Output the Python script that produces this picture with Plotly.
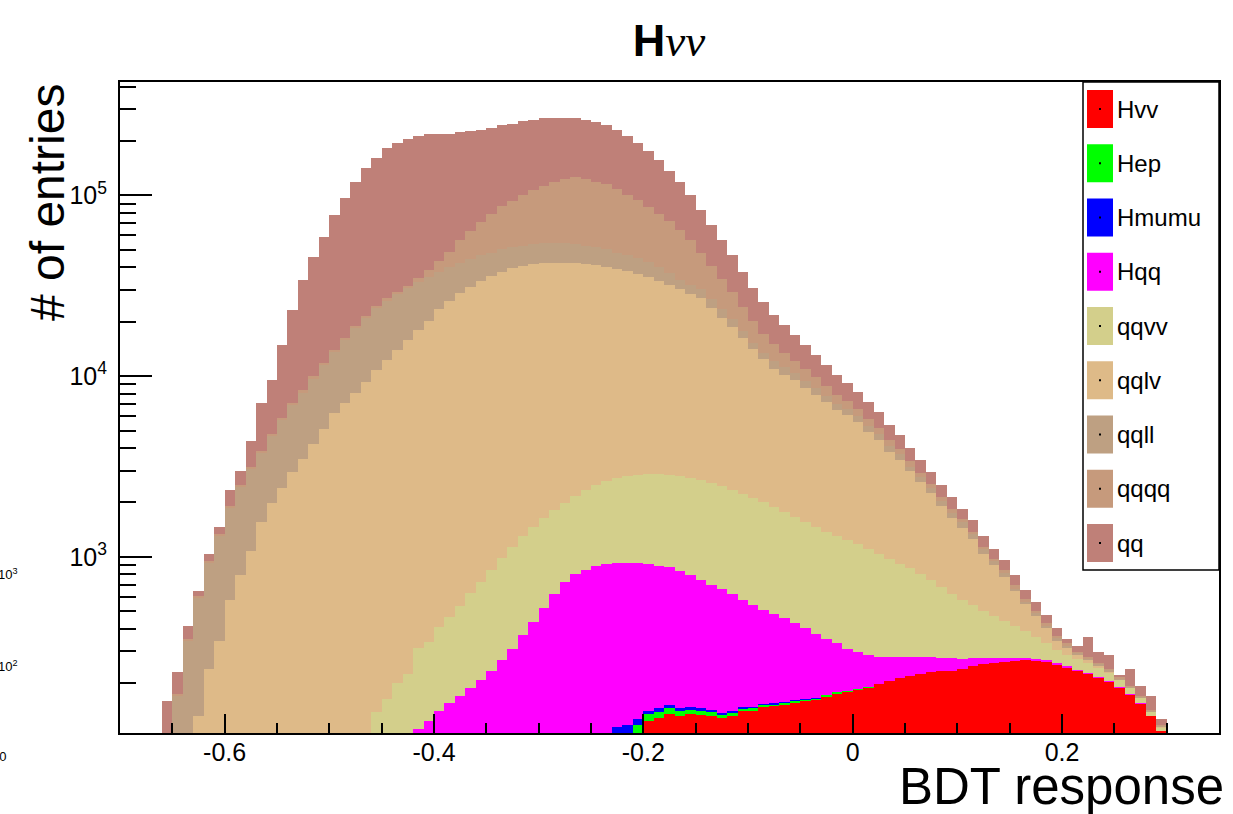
import numpy as np
import plotly.graph_objects as go

# ---------------- data (BDT response histogram, bin width 0.01) ----------------
bin_width = 0.01
first_edge = -0.66
n_bins = 96

# series values; each list starts at the given lower bin edge
qq_start = -0.66
qq = [57, 55, 63, 46, 95, 125, 425, 515, 1240, 3225, 4735, 9050, 16020, 25550, 35410, 46800, 63430, 80050,
      99050, 119430, 135500, 155000, 164900, 172500, 177000, 181500, 176800, 171200, 166600, 162200, 158000,
      156500, 157100, 153700, 157000, 153000, 155000, 149000, 144000, 141000, 136000, 135000, 129000, 120000,
      111000, 102200, 91200, 77500, 65200, 54000, 43600, 34800, 27700, 22100, 17600, 13500, 10500, 8400, 6700,
      5600, 4600, 3900, 3200, 2700, 2300, 1880, 1590, 1390, 1160, 920, 770, 610, 510, 410, 350, 300, 240, 210,
      170, 131, 114, 94, 71, 61, 46, 39, 21, 24, 84, 36, 44, 6, 48, 24, 27, 8]
qqqq_start = -0.66
qqqq = [3, 4, 8, 12, 18, 25, 35, 45, 60, 75, 95, 120, 150, 190, 240, 300, 370, 450, 550, 670, 800, 800, 800, 900,
        2000, 3300, 5700, 8800, 14300, 19500, 24500, 30200, 36700, 41800, 47200, 53500, 57800, 63800, 68800,
        72500, 71200, 67500, 64800, 60700, 54500, 49000, 43200, 38500, 34800, 30100, 24600, 17600, 13900, 10900,
        8400, 6300, 4800, 3700, 2900, 2300, 1850, 1550, 1280, 1050, 850, 700, 560, 490, 380, 330, 240, 210, 150,
        130, 100, 90, 60, 50, 40, 35, 31, 27, 15, 13, 11, 9, 9, 3, 4, 3, 3, 2, 2, 2, 2, 2]
qqll_start = -0.66
qqll = [100, 171, 344, 460, 686, 976, 1296, 1651, 2020, 2240, 2680, 3340, 4000, 4660, 5520, 6400, 7380, 8700,
        10300, 11600, 12900, 14000, 14400, 14800, 15100, 14900, 14100, 13800, 13400, 13300, 13000, 12600, 12700,
        12000, 12300, 12000, 12100, 12100, 12100, 11400, 11300, 10500, 10200, 9300, 8500, 8300, 7400, 6500, 5200,
        3700, 3400, 3300, 2600, 2300, 2000, 1500, 1200, 1100, 1100, 1000, 890, 790, 740, 570, 510, 480, 430, 390,
        350, 300, 280, 190, 170, 150, 130, 110, 100, 80, 60, 48, 41, 24, 20, 18, 11, 14, 8, 8, 7, 6, 6, 3,
        1, 1, 1, 1]
qqlv_start = -0.63
qqlv = [132, 241, 344, 574, 789, 1080, 1560, 1990, 2390, 2930, 3500, 4230, 5100, 6220, 7100, 8100, 9300,
        10660, 12040, 13700, 15575, 17590, 19960, 22990, 25735, 28160, 30370, 32770, 34860, 36510, 38360, 39200,
        40030, 40460, 40290, 40110, 39920, 39170, 38500, 37370, 36270, 35190, 33660, 32320, 30620, 28960, 27390,
        25670, 24250, 21400, 18600, 16300, 14000, 12000, 10400, 9100, 8400, 7800, 7000, 6350, 5780, 5160, 4820,
        4370, 3770, 3370, 2810, 2500, 2100, 1780, 1500, 1220, 1010, 876, 708, 540, 425, 326, 227, 155, 107, 73,
        40, 29, 16, 9, 9, 4, 1, 1, 1, 1, 1]
qqvv_start = -0.46
qqvv = [138, 164, 200, 225, 200, 214, 266, 310, 369, 444, 523, 606, 723, 830, 932, 1036, 1120, 1186, 1268, 1380,
        1480, 1615, 1716, 1804, 1884, 1914, 1966, 1990, 1960, 1975, 1940, 1910, 1863, 1805, 1706, 1650, 1580,
        1495, 1410, 1310, 1228, 1155, 1097, 1020, 967, 930, 884, 824, 762, 697, 637, 592, 527, 468, 408, 349,
        302, 267, 224, 195, 167, 142, 115, 90, 65, 45, 38, 34, 30, 26, 22, 18, 14, 11, 8, 5]
hqq_start = -0.42
hqq = [112, 124, 141, 155, 169, 188, 207, 235, 267, 310, 368, 434, 520, 624, 722, 800, 850, 885, 914, 812, 809,
       800, 774, 745, 729, 690, 642, 595, 555, 528, 484, 432, 392, 351, 325, 302, 271, 241, 207, 179, 155, 126,
       110, 95, 81, 73, 64, 59, 53, 47, 42, 40, 31, 27, 22, 18, 14, 11, 9, 7, 6, 5, 4, 3, 3, 2, 2, 1, 1, 1, 0, 0]
hmumu_start = -0.23
hmumu = [114, 117, 10, 6, 7, 6, 5, 5, 4, 4, 3, 3, 3, 2, 2, 2, 2, 1, 1, 1]
hep_start = -0.21
hep = [117, 11, 10, 10, 9, 8, 8, 7, 6, 6, 5, 5, 4, 4, 3, 3, 3, 2, 2, 2, 2, 1, 1]
hvv_start = -0.20
hvv = [124, 128, 135, 131, 135, 133, 131, 128, 131, 140, 141, 148, 149, 153, 157, 160, 163, 169, 176, 180, 185,
       190, 197, 205, 214, 219, 225, 231, 233, 235, 241, 248, 254, 258, 262, 264, 267, 264, 262, 254, 244, 235,
       225, 214, 204, 190, 174, 154, 131, 109]

# stacking order (bottom first) and colours
names = ["Hvv", "Hep", "Hmumu", "Hqq", "qqvv", "qqlv", "qqll", "qqqq", "qq"]
colors = ["#ff0000", "#00ff00", "#0000ff", "#ff00ff", "#d3cf8b", "#deba88", "#bea082", "#c69a7c", "#bf8078"]
series = [(hvv_start, hvv), (hep_start, hep), (hmumu_start, hmumu), (hqq_start, hqq), (qqvv_start, qqvv),
          (qqlv_start, qqlv), (qqll_start, qqll), (qqqq_start, qqqq), (qq_start, qq)]

x_ticks = [-0.6, -0.4, -0.2, 0.0, 0.2]
x_ticktext = ["-0.6", "-0.4", "-0.2", "0", "0.2"]
x_minor = [-0.65, -0.55, -0.5, -0.45, -0.35, -0.3, -0.25, -0.15, -0.1, -0.05, 0.05, 0.1, 0.15, 0.25, 0.3]
y_ticks = [1e3, 1e4, 1e5]
y_ticktext = ["10<sup>3</sup>", "10<sup>4</sup>", "10<sup>5</sup>"]
y_minor = [m * 10 ** e for e in (2, 3, 4) for m in range(2, 10)] + [2e5, 3e5, 4e5]

# ---------------- figure ----------------
centers = np.round(first_edge + bin_width * (np.arange(n_bins) + 0.5), 4)

fig = go.Figure()
for name, color, (start, vals) in zip(names, colors, series):
    full = np.zeros(n_bins)
    i0 = int(round((start - first_edge) / bin_width))
    full[i0:i0 + len(vals)] = vals
    fig.add_bar(x=centers, y=full, width=bin_width, name=name, showlegend=False,
                marker=dict(color=color, line=dict(width=0)), hoverinfo="x+y+name")

W, H = 1233, 814
L, R, T, B = 120, 1219, 82, 733


def px(xp):
    return (xp - L) / (R - L)


def py(yp):
    return (B - yp) / (B - T)


FONT = "Liberation Sans, Arial, sans-serif"
shapes = []
annotations = []

# legend (manual, ROOT style)
shapes.append(dict(type="rect", xref="paper", yref="paper", x0=px(1083), x1=px(1219), y0=py(570), y1=py(82),
                   line=dict(color="black", width=1.5), fillcolor="white", layer="above"))
for k, (name, color) in enumerate(zip(names, colors)):
    cy = 109 + 54.25 * k
    shapes.append(dict(type="rect", xref="paper", yref="paper", x0=px(1087), x1=px(1113),
                       y0=py(cy + 19), y1=py(cy - 19), line=dict(width=0), fillcolor=color, layer="above"))
    shapes.append(dict(type="rect", xref="paper", yref="paper", x0=px(1099), x1=px(1101),
                       y0=py(cy + 1), y1=py(cy - 1), line=dict(width=0), fillcolor="black", layer="above"))
    annotations.append(dict(text=name, xref="paper", yref="paper", x=px(1115), y=py(cy), xanchor="left",
                            yanchor="middle", showarrow=False, font=dict(family=FONT, size=24, color="black")))

# axis titles
annotations.append(dict(text="# of entries", xref="paper", yref="paper", x=px(47), y=py(203), textangle=-90,
                        xanchor="center", yanchor="middle", showarrow=False,
                        font=dict(family=FONT, size=48, color="black")))
annotations.append(dict(text="BDT response", xref="paper", yref="paper", x=px(1226), y=py(786),
                        xanchor="right", yanchor="middle", showarrow=False,
                        font=dict(family=FONT, size=51, color="black")))
# stray partial labels at the left edge
for txt, yy in [("10<sup>3</sup>", 574), ("10<sup>2</sup>", 666), ("10", 756)]:
    annotations.append(dict(text=txt, xref="paper", yref="paper", x=px(20 if "sup" in txt else 8), y=py(yy),
                            xanchor="right", yanchor="middle", showarrow=False,
                            font=dict(family=FONT, size=13, color="black")))

fig.update_layout(
    width=W, height=H,
    margin=dict(l=L, r=W - R, t=T, b=H - B, pad=0),
    paper_bgcolor="white", plot_bgcolor="white",
    barmode="stack", bargap=0,
    title=dict(text="<b>H</b><span style='font-family:Liberation Serif'><i>νν</i></span>",
               x=px(669), xref="paper", y=1 - 40 / H, yref="container", xanchor="center", yanchor="middle",
               font=dict(family=FONT, size=45, color="black")),
    xaxis=dict(range=[-0.70, 0.35], tickmode="array", tickvals=x_ticks, ticktext=x_ticktext,
               ticks="inside", ticklen=19, tickwidth=2, tickcolor="black",
               minor=dict(tickmode="array", tickvals=x_minor, ticks="inside", ticklen=10, tickwidth=2,
                          tickcolor="black", showgrid=False),
               showline=True, linewidth=2, linecolor="black", mirror=True,
               showgrid=False, zeroline=False, ticklabelstandoff=-4,
               tickfont=dict(family=FONT, size=25, color="black")),
    yaxis=dict(type="log", range=[np.log10(106), np.log10(424000)], tickmode="array", tickvals=y_ticks,
               ticktext=y_ticktext, ticks="inside", ticklen=32, tickwidth=2, tickcolor="black",
               minor=dict(tickmode="array", tickvals=y_minor, ticks="inside", ticklen=16, tickwidth=2,
                          tickcolor="black", showgrid=False),
               showline=True, linewidth=2, linecolor="black", mirror=True,
               showgrid=False, zeroline=False, ticklabelstandoff=6,
               tickfont=dict(family=FONT, size=25, color="black")),
    shapes=shapes, annotations=annotations,
)

fig.write_html("out.html")
